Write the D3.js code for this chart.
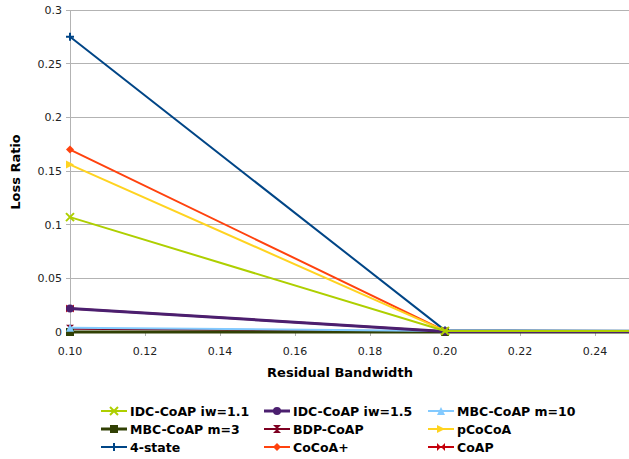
<!DOCTYPE html>
<html><head><meta charset="utf-8">
<script src="https://cdn.jsdelivr.net/npm/d3@7"></script>
<style>body{margin:0;background:#fff}svg{display:block}text{font-family:"DejaVu Sans",sans-serif}</style>
</head><body><svg id="c" width="629" height="459"></svg>
<script>
const bandwidth = [0.10, 0.20, 0.30];
const seriesNames = ["IDC-CoAP iw=1.1","IDC-CoAP iw=1.5","MBC-CoAP m=10","MBC-CoAP m=3","BDP-CoAP","pCoCoA","4-state","CoCoA+","CoAP"];
const idc11 = [0.107, 0.001, 0.0008];
const idc15 = [0.022, 0.0005, 0.0003];
const mbc10 = [0.004, 0.001, 0.0008];
const mbc3 = [0.0, 0.0, 0.0];
const bdp = [0.003, 0.0005, 0.0003];
const pcocoa = [0.156, 0.001, 0.0006];
const state4 = [0.275, 0.0015, 0.001];
const cocoaPlus = [0.17, 0.001, 0.0006];
const coap = [0.022, 0.0005, 0.0003];
const yTicks = [0, 0.05, 0.1, 0.15, 0.2, 0.25, 0.3];
const xTicks = [0.10, 0.12, 0.14, 0.16, 0.18, 0.20, 0.22, 0.24];

const values = [idc11, idc15, mbc10, mbc3, bdp, pcocoa, state4, cocoaPlus, coap];
const colors = ["#aecf00","#4b1f6f","#83caff","#314004","#7e0021","#ffd320","#004586","#ff420e","#c5000b"];
const widths = [2,3,2,3,2,2,2,2,2];
const markers = ["x","circle","tri","square","hour","tright","plus","diamond","bowtie"];

const svg = d3.select("#c");
const x = d3.scaleLinear().domain([0.1, 0.3]).range([70, 820]);
const y = d3.scaleLinear().domain([0, 0.3]).range([332, 10]);

svg.append("defs").append("clipPath").attr("id","clip").append("rect").attr("x",0).attr("y",0).attr("width",629).attr("height",340);

// gridlines
svg.append("g").selectAll("line").data(yTicks).join("line")
  .attr("x1",66).attr("x2",629).attr("y1",d=>y(d)).attr("y2",d=>y(d))
  .attr("stroke","#b3b3b3").attr("stroke-width",1).attr("shape-rendering","crispEdges");
// y axis line
svg.append("line").attr("x1",70).attr("x2",70).attr("y1",10).attr("y2",336)
  .attr("stroke","#b3b3b3").attr("shape-rendering","crispEdges");
// x ticks
svg.append("g").selectAll("line").data(xTicks).join("line")
  .attr("x1",d=>x(d)).attr("x2",d=>x(d)).attr("y1",332).attr("y2",336)
  .attr("stroke","#b3b3b3").attr("shape-rendering","crispEdges");

svg.append("g").selectAll("text").data(yTicks).join("text")
  .attr("x",62).attr("y",d=>y(d)+4).attr("text-anchor","end")
  .attr("font-size",11).attr("fill","#222").text(d=>d3.format("")(d));
svg.append("g").selectAll("text").data(xTicks).join("text")
  .attr("x",d=>x(d)).attr("y",355).attr("text-anchor","middle")
  .attr("font-size",11).attr("fill","#222").text(d=>d3.format(".2f")(d));

svg.append("text").attr("x",340).attr("y",377).attr("text-anchor","middle")
  .attr("font-size",13).attr("font-weight","bold").text("Residual Bandwidth");
svg.append("text").attr("transform","translate(20,172) rotate(-90)").attr("text-anchor","middle")
  .attr("font-size",13).attr("font-weight","bold").text("Loss Ratio");

function drawMarker(g, type, cx, cy, color, s) {
  s = s || 4;
  switch(type){
    case "x":
      g.append("path").attr("d",`M${cx-s},${cy-s}L${cx+s},${cy+s}M${cx-s},${cy+s}L${cx+s},${cy-s}`).attr("stroke",color).attr("stroke-width",2); break;
    case "plus":
      g.append("path").attr("d",`M${cx-s},${cy}L${cx+s},${cy}M${cx},${cy-s}L${cx},${cy+s}`).attr("stroke",color).attr("stroke-width",2); break;
    case "circle":
      g.append("circle").attr("cx",cx).attr("cy",cy).attr("r",s).attr("fill",color); break;
    case "square":
      g.append("rect").attr("x",cx-s).attr("y",cy-s).attr("width",2*s).attr("height",2*s).attr("fill",color); break;
    case "tri":
      g.append("path").attr("d",`M${cx},${cy-s}L${cx+s},${cy+s}L${cx-s},${cy+s}Z`).attr("fill",color); break;
    case "tright":
      g.append("path").attr("d",`M${cx+s},${cy}L${cx-s},${cy-s}L${cx-s},${cy+s}Z`).attr("fill",color); break;
    case "diamond":
      g.append("path").attr("d",`M${cx},${cy-s}L${cx+s},${cy}L${cx},${cy+s}L${cx-s},${cy}Z`).attr("fill",color); break;
    case "hour":
      g.append("path").attr("d",`M${cx-s},${cy-s}L${cx+s},${cy-s}L${cx-s},${cy+s}L${cx+s},${cy+s}Z`).attr("fill",color); break;
    case "bowtie":
      g.append("path").attr("d",`M${cx-s},${cy-s}L${cx+s},${cy+s}L${cx+s},${cy-s}L${cx-s},${cy+s}Z`).attr("fill",color); break;
  }
}

const plot = svg.append("g").attr("clip-path","url(#clip)");
const line = d3.line().x((d,i)=>x(bandwidth[i])).y(d=>y(d));
for (let k = values.length-1; k >= 0; k--) {
  const g = plot.append("g");
  g.append("path").datum(values[k]).attr("d",line).attr("fill","none")
    .attr("stroke",colors[k]).attr("stroke-width",widths[k]).attr("stroke-linejoin","round");
  values[k].forEach((v,i)=>drawMarker(g, markers[k], x(bandwidth[i]), y(v), colors[k], 4));
}

// legend
const colX = [101, 264, 428];
const rowY = [411, 429, 447];
seriesNames.forEach((name,k)=>{
  const cx = colX[k%3], cy = rowY[Math.floor(k/3)];
  const g = svg.append("g");
  g.append("line").attr("x1",cx).attr("x2",cx+26).attr("y1",cy).attr("y2",cy)
    .attr("stroke",colors[k]).attr("stroke-width",widths[k]);
  drawMarker(g, markers[k], cx+13, cy, colors[k], 4);
  g.append("text").attr("x",cx+29).attr("y",cy+5).attr("font-size",12.5)
    .attr("font-weight","bold").text(name);
});
</script></body></html>
